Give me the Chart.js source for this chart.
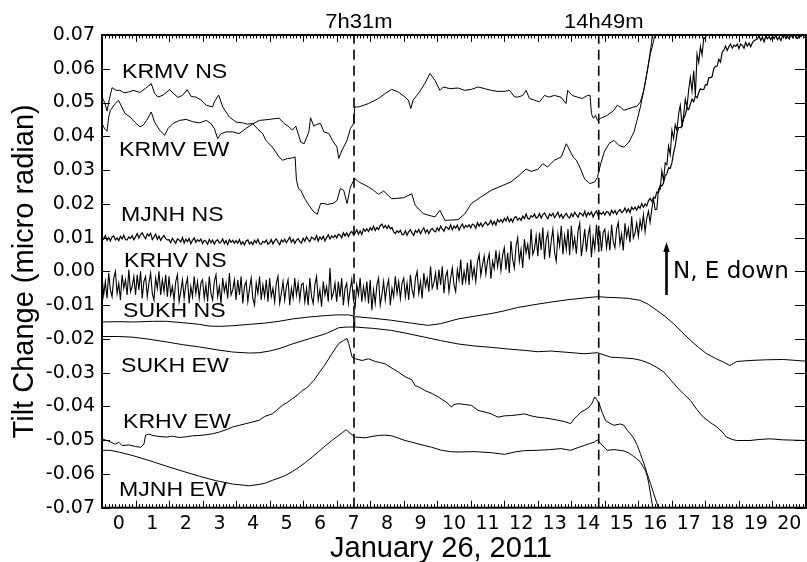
<!DOCTYPE html>
<html>
<head>
<meta charset="utf-8">
<script src="https://cdn.jsdelivr.net/npm/chart.js@4.4.1/dist/chart.umd.min.js"></script>
<style>
  html, body { margin: 0; padding: 0; background: #fff; overflow: hidden; }
  canvas { display: block; }
</style>
</head>
<body>
<canvas id="tilt" width="811" height="562"></canvas>
<script>
// Tilt records for January 26, 2011, hours on x, micro radian on y.
// Smooth records are [hour, value] pairs; the two noisy
// NS records are sampled every 0.05 h starting at 0 h.

const hourTicks = [0, 21];
const tiltRange = [-0.07, 0.07];
const eventHours = [7.517, 14.817];
const eventLabels = ["7h31m", "14h49m"];
const noisyStep = 0.05;

const krmvNs = [[0,0.0516],[0.08,0.0500],[0.15,0.0475],[0.22,0.0510],[0.30,0.0544],[0.42,0.0536],[0.53,0.0536],[0.66,0.0529],[0.80,0.0531],[0.93,0.0536],[1.13,0.0530],[1.30,0.0542],[1.47,0.0556],[1.57,0.0527],[1.67,0.0516],[1.82,0.0522],[2.02,0.0538],[2.12,0.0528],[2.27,0.0515],[2.41,0.0522],[2.54,0.0538],[2.66,0.0518],[2.81,0.0516],[2.96,0.0507],[3.11,0.0492],[3.30,0.0487],[3.35,0.0502],[3.48,0.0522],[3.60,0.0487],[3.80,0.0457],[4.00,0.0442],[4.19,0.0440],[4.34,0.0436],[4.49,0.0438],[4.64,0.0422],[4.79,0.0408],[4.89,0.0388],[5.08,0.0368],[5.28,0.0339],[5.38,0.0329],[5.53,0.0334],[5.68,0.0336],[5.76,0.0339],[5.80,0.0270],[5.86,0.0245],[5.93,0.0240],[6.05,0.0215],[6.17,0.0196],[6.32,0.0176],[6.42,0.0169],[6.52,0.0201],[6.62,0.0201],[6.72,0.0198],[6.91,0.0202],[7.01,0.0210],[7.11,0.0245],[7.21,0.0240],[7.31,0.0201],[7.41,0.0250],[7.54,0.0275],[7.66,0.0265],[7.95,0.0250],[8.10,0.0240],[8.25,0.0228],[8.40,0.0238],[8.64,0.0215],[9.00,0.0218],[9.24,0.0230],[9.34,0.0196],[9.58,0.0171],[9.93,0.0161],[10.08,0.0181],[10.23,0.0151],[10.62,0.0153],[10.82,0.0170],[11.02,0.0201],[11.30,0.0220],[11.61,0.0240],[11.90,0.0252],[12.20,0.0265],[12.45,0.0285],[12.65,0.0303],[12.80,0.0296],[13.00,0.0302],[13.15,0.0319],[13.29,0.0309],[13.49,0.0329],[13.70,0.0339],[13.85,0.0378],[13.95,0.0359],[14.05,0.0339],[14.15,0.0329],[14.25,0.0309],[14.40,0.0273],[14.55,0.0260],[14.70,0.0265],[14.78,0.0279],[14.88,0.0320],[14.98,0.0353],[15.12,0.0378],[15.27,0.0388],[15.42,0.0373],[15.57,0.0368],[15.72,0.0383],[15.87,0.0413],[15.96,0.0447],[16.06,0.0487],[16.20,0.0556],[16.30,0.0615],[16.39,0.0675],[16.46,0.0740]];

const krmvEw = [[0,0.0438],[0.08,0.0422],[0.15,0.0415],[0.20,0.0457],[0.25,0.0477],[0.40,0.0497],[0.49,0.0507],[0.59,0.0487],[0.69,0.0467],[0.84,0.0457],[0.98,0.0442],[1.13,0.0428],[1.23,0.0433],[1.33,0.0447],[1.47,0.0472],[1.57,0.0442],[1.72,0.0418],[1.87,0.0403],[1.97,0.0423],[2.12,0.0438],[2.31,0.0447],[2.51,0.0450],[2.71,0.0443],[2.91,0.0440],[3.11,0.0447],[3.25,0.0438],[3.35,0.0423],[3.45,0.0393],[3.55,0.0408],[3.70,0.0413],[3.90,0.0413],[4.09,0.0408],[4.29,0.0423],[4.49,0.0436],[4.69,0.0447],[4.99,0.0450],[5.28,0.0454],[5.43,0.0438],[5.58,0.0428],[5.68,0.0418],[5.78,0.0430],[5.93,0.0383],[6.03,0.0378],[6.17,0.0413],[6.22,0.0455],[6.32,0.0430],[6.42,0.0436],[6.52,0.0438],[6.62,0.0413],[6.77,0.0408],[6.87,0.0388],[7.01,0.0368],[7.06,0.0334],[7.16,0.0359],[7.31,0.0388],[7.41,0.0423],[7.51,0.0438],[7.54,0.0487],[7.66,0.0487],[7.95,0.0497],[8.25,0.0512],[8.45,0.0527],[8.64,0.0539],[8.84,0.0531],[9.04,0.0516],[9.14,0.0507],[9.21,0.0482],[9.28,0.0507],[9.44,0.0527],[9.63,0.0556],[9.78,0.0586],[9.93,0.0566],[10.08,0.0536],[10.18,0.0546],[10.38,0.0541],[10.62,0.0543],[10.82,0.0536],[11.02,0.0539],[11.22,0.0546],[11.42,0.0541],[11.61,0.0536],[11.81,0.0533],[12.01,0.0533],[12.16,0.0536],[12.30,0.0517],[12.40,0.0516],[12.55,0.0521],[12.65,0.0536],[12.75,0.0512],[12.90,0.0507],[13.05,0.0502],[13.20,0.0521],[13.34,0.0516],[13.49,0.0521],[13.69,0.0516],[13.84,0.0497],[13.89,0.0536],[14.03,0.0521],[14.18,0.0516],[14.33,0.0512],[14.48,0.0521],[14.56,0.0521],[14.60,0.0467],[14.66,0.0453],[14.72,0.0462],[14.78,0.0447],[14.87,0.0453],[15.07,0.0462],[15.27,0.0477],[15.37,0.0492],[15.47,0.0486],[15.57,0.0477],[15.72,0.0482],[15.87,0.0487],[15.96,0.0489],[16.06,0.0502],[16.16,0.0536],[16.26,0.0590],[16.36,0.0645],[16.46,0.0685],[16.56,0.0740]];

// 20 samples per hour, one row per hour
const mjnhNs = [
  0.0103,0.0095,0.0106,0.0092,0.0100,0.0090,0.0102,0.0105,0.0093,0.0099,0.0091,0.0104,0.0096,0.0107,0.0094,0.0093,0.0102,0.0098,0.0106,0.0094,
  0.0102,0.0112,0.0099,0.0109,0.0114,0.0104,0.0097,0.0111,0.0105,0.0113,0.0094,0.0102,0.0110,0.0095,0.0104,0.0092,0.0101,0.0106,0.0097,0.0093,
  0.0094,0.0085,0.0098,0.0090,0.0083,0.0096,0.0093,0.0087,0.0100,0.0084,0.0095,0.0088,0.0097,0.0082,0.0092,0.0099,0.0086,0.0094,0.0089,0.0096,
  0.0082,0.0092,0.0089,0.0080,0.0095,0.0085,0.0093,0.0081,0.0090,0.0094,0.0084,0.0087,0.0096,0.0082,0.0091,0.0079,0.0094,0.0086,0.0092,0.0083,
  0.0091,0.0083,0.0094,0.0080,0.0088,0.0078,0.0090,0.0093,0.0081,0.0087,0.0079,0.0092,0.0084,0.0095,0.0082,0.0080,0.0089,0.0085,0.0093,0.0081,
  0.0084,0.0094,0.0081,0.0091,0.0096,0.0086,0.0079,0.0093,0.0087,0.0095,0.0085,0.0093,0.0101,0.0086,0.0095,0.0083,0.0092,0.0097,0.0088,0.0084,
  0.0098,0.0089,0.0102,0.0094,0.0088,0.0101,0.0098,0.0093,0.0106,0.0090,0.0102,0.0095,0.0104,0.0090,0.0100,0.0108,0.0096,0.0105,0.0100,0.0107,
  0.0099,0.0110,0.0107,0.0099,0.0114,0.0105,0.0114,0.0103,0.0113,0.0118,0.0109,0.0113,0.0123,0.0110,0.0120,0.0109,0.0126,0.0119,0.0126,0.0118,
  0.0129,0.0122,0.0134,0.0121,0.0130,0.0124,0.0136,0.0140,0.0129,0.0136,0.0127,0.0136,0.0126,0.0130,0.0117,0.0112,0.0120,0.0115,0.0122,0.0109,
  0.0109,0.0120,0.0107,0.0118,0.0123,0.0113,0.0106,0.0121,0.0115,0.0124,0.0112,0.0121,0.0129,0.0114,0.0123,0.0112,0.0122,0.0127,0.0120,0.0117,
  0.0129,0.0120,0.0134,0.0126,0.0119,0.0132,0.0129,0.0124,0.0138,0.0123,0.0134,0.0128,0.0137,0.0122,0.0133,0.0140,0.0128,0.0136,0.0131,0.0138,
  0.0129,0.0140,0.0137,0.0128,0.0144,0.0134,0.0143,0.0132,0.0141,0.0146,0.0137,0.0141,0.0151,0.0138,0.0148,0.0137,0.0153,0.0146,0.0153,0.0145,
  0.0157,0.0149,0.0161,0.0147,0.0156,0.0146,0.0159,0.0162,0.0151,0.0158,0.0151,0.0164,0.0156,0.0170,0.0157,0.0155,0.0165,0.0161,0.0170,0.0158,
  0.0161,0.0171,0.0158,0.0168,0.0173,0.0163,0.0156,0.0170,0.0164,0.0172,0.0159,0.0167,0.0175,0.0160,0.0169,0.0157,0.0166,0.0171,0.0162,0.0158,
  0.0171,0.0162,0.0175,0.0167,0.0160,0.0173,0.0170,0.0164,0.0178,0.0162,0.0174,0.0167,0.0176,0.0161,0.0172,0.0179,0.0166,0.0174,0.0169,0.0176,
  0.0167,0.0177,0.0175,0.0166,0.0181,0.0172,0.0180,0.0169,0.0178,0.0183,0.0174,0.0178,0.0188,0.0175,0.0185,0.0174,0.0190,0.0183,0.0190,0.0181,
  0.0193,0.0187,0.0201,0.0190,0.0200,0.0194,0.0209,0.0216,0.0207,0.0219,0.0217,0.0235,0.0233,0.0255,0.0253,0.0262,0.0283,0.0289,0.0307,0.0305,
  0.0321,0.0351,0.0373,0.0408,0.0426,0.0426,0.0429,0.0452,0.0464,0.0485,0.0479,0.0495,0.0510,0.0502,0.0519,0.0514,0.0529,0.0541,0.0538,0.0539,
  0.0553,0.0552,0.0574,0.0574,0.0577,0.0601,0.0607,0.0608,0.0628,0.0620,0.0649,0.0655,0.0667,0.0654,0.0665,0.0673,0.0661,0.0670,0.0666,0.0673,
  0.0660,0.0673,0.0670,0.0661,0.0678,0.0667,0.0676,0.0665,0.0677,0.0683,0.0686,0.0689,0.0698,0.0684,0.0693,0.0680,0.0697,0.0689,0.0695,0.0686,
  0.0697,0.0689,0.0700,0.0686,0.0694,0.0684,0.0697,0.0700,0.0689,0.0695,0.0688,0.0701,0.0693,0.0705,0.0692,0.0690,0.0699,0.0695,0.0703,0.0691
];

const krhvNs = [
  -0.0015,-0.0070,-0.0030,-0.0080,-0.0005,-0.0055,-0.0075,-0.0020,0.0000,-0.0065,-0.0035,-0.0085,-0.0010,-0.0050,-0.0025,-0.0070,0.0005,-0.0060,-0.0045,-0.0015,
  -0.0070,-0.0010,-0.0055,0.0000,-0.0080,-0.0030,-0.0015,-0.0075,-0.0035,-0.0005,-0.0065,-0.0085,-0.0020,-0.0050,0.0000,-0.0070,-0.0025,-0.0060,-0.0010,-0.0075,
  -0.0015,-0.0070,-0.0045,-0.0085,-0.0030,-0.0010,-0.0090,-0.0060,-0.0025,-0.0080,-0.0040,-0.0020,-0.0095,-0.0045,-0.0075,-0.0015,-0.0065,-0.0030,-0.0080,-0.0035,
  -0.0025,-0.0080,-0.0040,-0.0090,-0.0015,-0.0065,-0.0085,-0.0030,-0.0010,-0.0075,-0.0045,-0.0095,-0.0020,-0.0060,-0.0035,-0.0080,-0.0005,-0.0070,-0.0055,-0.0025,
  -0.0085,-0.0025,-0.0070,-0.0015,-0.0095,-0.0045,-0.0030,-0.0090,-0.0050,-0.0020,-0.0080,-0.0100,-0.0035,-0.0065,-0.0015,-0.0085,-0.0040,-0.0075,-0.0025,-0.0090,
  -0.0020,-0.0075,-0.0050,-0.0090,-0.0035,-0.0015,-0.0095,-0.0065,-0.0030,-0.0085,-0.0045,-0.0025,-0.0100,-0.0050,-0.0080,-0.0020,-0.0070,-0.0035,-0.0085,-0.0040,
  -0.0035,-0.0090,-0.0050,-0.0100,-0.0020,-0.0075,-0.0095,-0.0040,-0.0015,-0.0085,-0.0055,-0.0105,-0.0030,-0.0070,-0.0045,-0.0090,0.0010,-0.0080,-0.0065,-0.0035,
  -0.0090,-0.0030,-0.0075,-0.0020,-0.0100,-0.0050,-0.0035,-0.0095,-0.0055,-0.0025,-0.0085,-0.0105,-0.0040,-0.0070,-0.0020,-0.0090,-0.0045,-0.0080,-0.0030,-0.0095,
  -0.0025,-0.0115,-0.0055,-0.0095,-0.0040,-0.0020,-0.0100,-0.0070,-0.0030,-0.0085,-0.0045,-0.0025,-0.0100,-0.0050,-0.0075,-0.0015,-0.0065,-0.0030,-0.0080,-0.0035,
  -0.0020,-0.0075,-0.0035,-0.0085,-0.0010,-0.0055,-0.0075,-0.0020,0.0000,-0.0065,-0.0030,-0.0080,-0.0005,-0.0045,-0.0020,-0.0060,0.0015,-0.0050,-0.0035,-0.0005,
  -0.0055,0.0005,-0.0040,0.0015,-0.0065,-0.0015,0.0000,-0.0060,-0.0020,0.0010,-0.0040,-0.0060,0.0005,-0.0025,0.0035,-0.0040,0.0000,-0.0030,0.0025,-0.0040,
  0.0035,-0.0018,0.0010,-0.0030,0.0028,0.0050,-0.0012,0.0020,0.0045,-0.0008,0.0030,0.0052,-0.0022,0.0030,0.0008,0.0062,0.0014,0.0052,0.0002,0.0048,
  0.0070,0.0005,0.0055,-0.0005,0.0090,0.0035,0.0010,0.0075,0.0100,0.0030,0.0065,0.0010,0.0095,0.0055,0.0080,0.0035,0.0125,0.0050,0.0065,0.0105,
  0.0045,0.0115,0.0063,0.0130,0.0035,0.0095,0.0115,0.0040,0.0090,0.0125,0.0055,0.0030,0.0110,0.0075,0.0135,0.0050,0.0105,0.0065,0.0125,0.0048,
  0.0135,0.0070,0.0100,0.0052,0.0120,0.0143,0.0045,0.0083,0.0125,0.0058,0.0107,0.0131,0.0042,0.0101,0.0066,0.0138,0.0078,0.0120,0.0060,0.0115,
  0.0125,0.0070,0.0111,0.0062,0.0138,0.0088,0.0070,0.0125,0.0145,0.0081,0.0111,0.0062,0.0142,0.0101,0.0128,0.0086,0.0163,0.0099,0.0114,0.0143,
  0.0104,0.0151,0.0125,0.0168,0.0117,0.0157,0.0178,0.0145,0.0184,0.0215,0.0183,0.0184,0.0244,0.0243,0.0298,0.0269,0.0321,0.0316,0.0371,0.0346,
  0.0418,0.0394,0.0434,0.0417,0.0466,0.0492,0.0433,0.0462,0.0510,0.0486,0.0538,0.0574,0.0534,0.0594,0.0520,0.0643,0.0618,0.0666,0.0641,0.0692,
  0.0690,0.0715
];

const sukhNs = [[0,-0.0150],[0.5,-0.0149],[0.93,-0.0150],[1.5,-0.0148],[1.92,-0.0148],[2.4,-0.0152],[2.91,-0.0157],[3.2,-0.0162],[3.5,-0.0163],[3.9,-0.0161],[4.4,-0.0157],[4.88,-0.0153],[5.28,-0.0148],[5.68,-0.0141],[6.2,-0.0135],[6.67,-0.0131],[7.0,-0.0129],[7.36,-0.0129],[7.50,-0.0132],[7.52,-0.0165],[7.54,-0.0134],[8.1,-0.0139],[8.64,-0.0145],[9.2,-0.0153],[9.73,-0.0160],[10.1,-0.0155],[10.62,-0.0141],[11.1,-0.0133],[11.61,-0.0125],[12.0,-0.0117],[12.4,-0.0107],[13.0,-0.0097],[13.39,-0.0091],[13.9,-0.0084],[14.38,-0.0079],[14.78,-0.0075],[15.07,-0.0077],[15.37,-0.0078],[15.7,-0.0080],[16.06,-0.0086],[16.3,-0.0098],[16.56,-0.0116],[16.8,-0.0134],[17.05,-0.0155],[17.3,-0.0180],[17.55,-0.0204],[17.8,-0.0226],[18.04,-0.0244],[18.3,-0.0258],[18.54,-0.0269],[18.73,-0.0279],[18.93,-0.0267],[19.33,-0.0264],[19.8,-0.0262],[20.32,-0.0261],[21.0,-0.0266]];

const sukhEw = [[0,-0.0193],[0.5,-0.0193],[0.93,-0.0195],[1.4,-0.0201],[1.92,-0.0209],[2.4,-0.0217],[2.91,-0.0224],[3.4,-0.0232],[3.9,-0.0239],[4.4,-0.0242],[4.69,-0.0241],[5.0,-0.0236],[5.28,-0.0229],[5.68,-0.0215],[6.2,-0.0199],[6.67,-0.0185],[7.06,-0.0167],[7.3,-0.0165],[7.56,-0.0165],[8.1,-0.0169],[8.64,-0.0175],[9.1,-0.0184],[9.63,-0.0195],[10.1,-0.0205],[10.62,-0.0215],[11.1,-0.0221],[11.61,-0.0225],[12.1,-0.0230],[12.6,-0.0234],[13.0,-0.0238],[13.39,-0.0236],[13.9,-0.0240],[14.38,-0.0244],[14.78,-0.0241],[15.17,-0.0254],[15.5,-0.0256],[15.87,-0.0259],[16.1,-0.0264],[16.36,-0.0274],[16.56,-0.0285],[16.76,-0.0298],[16.95,-0.0320],[17.15,-0.0343],[17.35,-0.0363],[17.55,-0.0382],[17.75,-0.0410],[17.94,-0.0432],[18.15,-0.0448],[18.34,-0.0461],[18.5,-0.0476],[18.63,-0.0491],[18.8,-0.0498],[18.93,-0.0501],[19.33,-0.0501],[19.6,-0.0498],[19.92,-0.0496],[20.3,-0.0499],[21.0,-0.0501]];

const krhvEw = [[0,-0.0496],[0.2,-0.0503],[0.4,-0.0512],[0.5,-0.0506],[0.6,-0.0516],[0.8,-0.0514],[1.0,-0.0519],[1.15,-0.0521],[1.25,-0.0512],[1.30,-0.0485],[1.4,-0.0482],[1.52,-0.0486],[1.7,-0.0489],[1.92,-0.0491],[2.1,-0.0488],[2.3,-0.0492],[2.51,-0.0490],[2.7,-0.0487],[2.91,-0.0486],[3.1,-0.0484],[3.30,-0.0481],[3.5,-0.0476],[3.7,-0.0469],[3.90,-0.0461],[4.1,-0.0456],[4.29,-0.0451],[4.5,-0.0446],[4.69,-0.0441],[4.85,-0.0430],[5.08,-0.0422],[5.2,-0.0412],[5.38,-0.0397],[5.5,-0.0390],[5.68,-0.0377],[5.85,-0.0365],[5.97,-0.0353],[6.1,-0.0346],[6.32,-0.0323],[6.5,-0.0297],[6.67,-0.0274],[6.85,-0.0245],[7.06,-0.0214],[7.2,-0.0205],[7.31,-0.0199],[7.36,-0.0214],[7.46,-0.0254],[7.56,-0.0259],[7.76,-0.0264],[7.95,-0.0259],[8.15,-0.0267],[8.3,-0.0270],[8.45,-0.0274],[8.65,-0.0287],[8.84,-0.0298],[9.04,-0.0312],[9.24,-0.0321],[9.34,-0.0338],[9.5,-0.0345],[9.63,-0.0353],[9.85,-0.0362],[10.03,-0.0372],[10.2,-0.0383],[10.33,-0.0392],[10.42,-0.0402],[10.5,-0.0395],[10.62,-0.0392],[10.8,-0.0394],[11.02,-0.0397],[11.22,-0.0412],[11.4,-0.0416],[11.61,-0.0422],[11.81,-0.0432],[12.0,-0.0428],[12.21,-0.0427],[12.4,-0.0425],[12.6,-0.0422],[12.8,-0.0428],[13.0,-0.0432],[13.2,-0.0434],[13.39,-0.0437],[13.6,-0.0441],[13.8,-0.0445],[13.98,-0.0451],[14.08,-0.0437],[14.18,-0.0428],[14.28,-0.0417],[14.4,-0.0411],[14.53,-0.0402],[14.62,-0.0390],[14.70,-0.0372],[14.76,-0.0380],[14.83,-0.0392],[14.92,-0.0418],[15.02,-0.0442],[15.15,-0.0450],[15.27,-0.0456],[15.45,-0.0452],[15.57,-0.0456],[15.67,-0.0471],[15.77,-0.0482],[15.87,-0.0496],[15.97,-0.0516],[16.06,-0.0540],[16.16,-0.0568],[16.26,-0.0599],[16.36,-0.0628],[16.46,-0.0659],[16.54,-0.0683],[16.61,-0.0704],[16.7,-0.0730]];

const mjnhEw = [[0,-0.0530],[0.24,-0.0530],[0.53,-0.0536],[0.93,-0.0546],[1.43,-0.0561],[1.92,-0.0577],[2.41,-0.0592],[2.91,-0.0607],[3.40,-0.0620],[3.90,-0.0630],[4.39,-0.0635],[4.69,-0.0631],[4.88,-0.0627],[5.08,-0.0619],[5.28,-0.0612],[5.48,-0.0604],[5.68,-0.0593],[5.88,-0.0580],[6.07,-0.0566],[6.27,-0.0550],[6.47,-0.0533],[6.67,-0.0516],[6.87,-0.0500],[7.06,-0.0486],[7.18,-0.0477],[7.28,-0.0469],[7.42,-0.0481],[7.56,-0.0491],[7.85,-0.0493],[8.05,-0.0489],[8.25,-0.0486],[8.45,-0.0485],[8.64,-0.0487],[8.84,-0.0494],[9.04,-0.0501],[9.24,-0.0506],[9.43,-0.0511],[9.63,-0.0516],[9.83,-0.0521],[10.13,-0.0530],[10.4,-0.0534],[10.62,-0.0535],[11.12,-0.0534],[11.61,-0.0537],[12.01,-0.0542],[12.31,-0.0535],[12.60,-0.0531],[13.0,-0.0530],[13.35,-0.0528],[13.69,-0.0525],[13.98,-0.0530],[14.2,-0.0522],[14.38,-0.0516],[14.55,-0.0510],[14.68,-0.0506],[14.78,-0.0499],[14.88,-0.0511],[15.07,-0.0530],[15.27,-0.0528],[15.45,-0.0530],[15.57,-0.0532],[15.70,-0.0537],[15.82,-0.0545],[15.95,-0.0555],[16.06,-0.0565],[16.15,-0.0580],[16.21,-0.0590],[16.27,-0.0608],[16.31,-0.0629],[16.36,-0.0657],[16.41,-0.0688],[16.44,-0.0704],[16.48,-0.0730]];

// Text placed inside the plot: [text, left px, baseline px]
const seriesLabels = [
  ["KRMV NS", 122, 78], ["KRMV EW", 119, 156], ["MJNH NS", 121, 221],
  ["KRHV NS", 124, 267], ["SUKH NS", 123, 317], ["SUKH EW", 121, 372],
  ["KRHV EW", 123, 428], ["MJNH EW", 119, 496]
];

const pairsToPoints = pairs => pairs.map(([x, y]) => ({ x, y }));
const gridToPoints = vals => vals.map((y, i) => ({ x: Math.round(i * noisyStep * 100) / 100, y }));

function traceSet(points, width) {
  return { data: points, borderColor: "#000", borderWidth: width, pointRadius: 0, fill: false, tension: 0 };
}

const datasets = [
  traceSet(pairsToPoints(krmvNs), 1),
  traceSet(pairsToPoints(krmvEw), 1),
  traceSet(gridToPoints(mjnhNs), 1.2),
  traceSet(gridToPoints(krhvNs), 1.1),
  traceSet(pairsToPoints(sukhNs), 1),
  traceSet(pairsToPoints(sukhEw), 1),
  traceSet(pairsToPoints(krhvEw), 1),
  traceSet(pairsToPoints(mjnhEw), 1)
];
eventHours.forEach(h => {
  datasets.push({
    data: [{ x: h, y: tiltRange[0] }, { x: h, y: tiltRange[1] }],
    borderColor: "#000", borderWidth: 1.6, borderDash: [10, 6], pointRadius: 0, fill: false
  });
});

function stretchedText(ctx, text, x, y, font, sx, align) {
  ctx.save();
  ctx.translate(x, y);
  ctx.scale(sx, 1);
  ctx.font = font;
  ctx.textAlign = align;
  ctx.textBaseline = "alphabetic";
  ctx.fillStyle = "#000";
  ctx.fillText(text, 0, 0);
  ctx.restore();
}

// Frame on all four sides, inward ticks, and the notes drawn over the plot.
const frameAndNotes = {
  id: "frameAndNotes",
  afterDraw(chart) {
    const { ctx, chartArea: a, scales: { x, y } } = chart;
    ctx.save();
    ctx.strokeStyle = "#000";
    ctx.lineWidth = 2;
    ctx.strokeRect(a.left, a.top, a.right - a.left, a.bottom - a.top);

    ctx.lineWidth = 1;
    ctx.beginPath();
    for (let i = hourTicks[0] * 10; i <= hourTicks[1] * 10; i++) {
      const px = Math.round(x.getPixelForValue(i / 10)) + 0.5;
      const len = i % 10 === 0 ? 7 : 3.5;
      ctx.moveTo(px, a.bottom); ctx.lineTo(px, a.bottom - len);
      ctx.moveTo(px, a.top); ctx.lineTo(px, a.top + len);
    }
    for (let k = -7; k <= 7; k++) {
      const py = Math.round(y.getPixelForValue(k / 100)) + 0.5;
      ctx.moveTo(a.left, py); ctx.lineTo(a.left + 8, py);
      ctx.moveTo(a.right, py); ctx.lineTo(a.right - 11, py);
    }
    ctx.stroke();

    eventHours.forEach((h, i) => {
      stretchedText(ctx, eventLabels[i], x.getPixelForValue(h) + 5, 28, "20px 'Liberation Sans'", 1.1, "center");
    });
    seriesLabels.forEach(([t, lx, by]) => stretchedText(ctx, t, lx, by, "21px 'Liberation Sans'", 1.1, "left"));

    // "N, E down" arrow
    ctx.lineWidth = 2.6;
    ctx.beginPath();
    ctx.moveTo(666.5, 295); ctx.lineTo(666.5, 250);
    ctx.stroke();
    ctx.beginPath();
    ctx.moveTo(666.5, 242); ctx.lineTo(663.3, 252); ctx.lineTo(669.7, 252); ctx.closePath();
    ctx.fillStyle = "#000";
    ctx.fill();
    stretchedText(ctx, "N, E down", 673, 278, "23px 'DejaVu Sans'", 1, "left");

    stretchedText(ctx, "January 26, 2011", 441, 557, "29px 'Liberation Sans'", 1, "center");
    ctx.restore();
  }
};

const tickFont = { family: "'DejaVu Sans'", size: 19 };

new Chart(document.getElementById("tilt"), {
  type: "line",
  data: { datasets },
  options: {
    responsive: false,
    animation: false,
    devicePixelRatio: 1,
    layout: { padding: { top: 35, right: 1.3, left: 0, bottom: 0 } },
    plugins: { legend: { display: false }, tooltip: { enabled: false } },
    scales: {
      x: {
        type: "linear",
        min: hourTicks[0],
        max: hourTicks[1],
        grid: { display: false, drawTicks: false },
        border: { display: false },
        ticks: {
          stepSize: 1, autoSkip: false, maxRotation: 0, padding: 5,
          labelOffset: 16.85, color: "#000", font: tickFont,
          callback: v => (v < hourTicks[1] ? String(v) : "")
        },
        afterFit(scale) { scale.height = 54.3; }
      },
      y: {
        min: tiltRange[0],
        max: tiltRange[1],
        grid: { display: false, drawTicks: false },
        border: { display: false },
        ticks: {
          stepSize: 0.01, padding: 7, color: "#000", font: tickFont,
          callback: v => (Math.abs(v) < 1e-9 ? "0.00" : v.toFixed(2))
        },
        title: {
          display: true,
          text: "Tilt Change (micro radian)",
          color: "#000",
          font: { family: "'Liberation Sans'", size: 29 },
          padding: { top: 8, bottom: 0 }
        },
        afterFit(scale) { scale.width = 102; }
      }
    }
  },
  plugins: [frameAndNotes]
});
</script>
</body>
</html>
